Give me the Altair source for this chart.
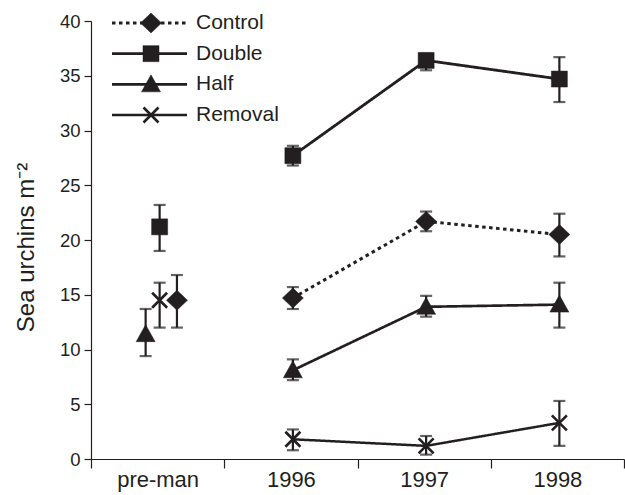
import altair as alt
import pandas as pd

periods = ["pre-man", "1996", "1997", "1998"]
series = ["Control", "Double", "Half", "Removal"]

control_mean = [14.5, 14.7, 21.7, 20.5]
control_lo = [12.0, 13.7, 20.8, 18.5]
control_hi = [16.8, 15.7, 22.6, 22.4]

double_mean = [21.2, 27.7, 36.4, 34.7]
double_lo = [19.0, 26.8, 35.5, 32.6]
double_hi = [23.2, 28.6, 37.0, 36.7]

half_mean = [11.4, 8.1, 13.9, 14.1]
half_lo = [9.4, 7.2, 13.0, 12.0]
half_hi = [13.7, 9.1, 14.9, 16.1]

removal_mean = [14.5, 1.8, 1.2, 3.3]
removal_lo = [12.0, 0.8, 0.4, 1.2]
removal_hi = [16.1, 2.7, 2.1, 5.3]

y_ticks = [0, 5, 10, 15, 20, 25, 30, 35, 40]

# layout (dodge of the pre-manipulation points)
X_SHIFT = 0.015
PRE_OFFSET = {"Control": 0.13, "Double": 0.0, "Half": -0.105, "Removal": 0.0}

INK = "#231f20"
FONT = "Liberation Sans"

table = {
    "Control": (control_mean, control_lo, control_hi),
    "Double": (double_mean, double_lo, double_hi),
    "Half": (half_mean, half_lo, half_hi),
    "Removal": (removal_mean, removal_lo, removal_hi),
}
rows = []
for s in series:
    m, lo, hi = table[s]
    for i, p in enumerate(periods):
        rows.append({
            "series": s, "period": p,
            "x": i + X_SHIFT + (PRE_OFFSET[s] if i == 0 else 0.0),
            "mean": m[i], "lo": lo[i], "hi": hi[i],
        })
df = pd.DataFrame(rows)
leg = pd.DataFrame({"series": series})

shape_paths = [
    "M-1.05,0L0,-1L1.05,0L0,1Z",
    "M-0.8,-0.8L0.8,-0.8L0.8,0.8L-0.8,0.8Z",
    "M0,-0.95L0.95,0.75L-0.95,0.75Z",
    "M-0.75,-0.75L0.75,0.75M-0.75,0.75L0.75,-0.75",
]
shape_scale = alt.Scale(domain=series, range=shape_paths)
dash_scale = alt.Scale(domain=series, range=[[3.5, 3.5], [1, 0], [1, 0], [1, 0]])
width_scale = alt.Scale(domain=series, range=[3, 2.5, 1.8, 1.1])

label_map = "{'0': 'pre-man', '1': '1996', '2': '1997', '3': '1998'}"

x_enc = alt.X(
    "x:Q",
    scale=alt.Scale(domain=[-0.5, 3.5], nice=False, zero=False),
    axis=alt.Axis(
        title=None,
        values=[-0.5, 0, 0.5, 1, 1.5, 2, 2.5, 3, 3.5],
        labelExpr="datum.value % 1 === 0 ? " + label_map + "[''+datum.value] : ''",
        tickOpacity={"expr": "datum.value % 1 === 0 ? 0 : 1"},
        tickSize=9, tickColor=INK, tickWidth=1.2,
        domainColor=INK, domainWidth=1.2,
        labelFontSize=22, labelFont=FONT, labelColor=INK, labelPadding=1,
        labelOverlap=False, labelFlush=False, grid=False,
    ),
)
y_scale = alt.Scale(domain=[0, 40], nice=False, zero=True)
y_axis = alt.Axis(
    title="Sea urchins m⁻²", values=y_ticks, grid=False,
    tickSize=7, tickColor=INK, tickWidth=1.2, domainColor=INK, domainWidth=1.2,
    labelFontSize=18.5, labelFont=FONT, labelColor=INK, labelPadding=4,
    titleFontSize=24, titleFont=FONT, titleColor=INK, titleFontWeight="normal",
    titleX=-58, titleY=226, titleBaseline="alphabetic", titleAlign="center",
)

base = alt.Chart(df)

lines = base.transform_filter(alt.datum.period != "pre-man").mark_line(color=INK).encode(
    x=x_enc,
    y=alt.Y("mean:Q", scale=y_scale, axis=y_axis),
    detail="series:N",
    strokeDash=alt.StrokeDash("series:N", scale=dash_scale, legend=None),
    strokeWidth=alt.StrokeWidth("series:N", scale=width_scale, legend=None),
    order="x:Q",
)

err = base.mark_rule(color=INK, strokeWidth=2.2).encode(
    x="x:Q", y="lo:Q", y2="hi:Q",
)
cap_lo = base.mark_tick(orient="horizontal", color=INK, size=12, thickness=2.2).encode(
    x="x:Q", y="lo:Q")
cap_hi = base.mark_tick(orient="horizontal", color=INK, size=12, thickness=2.2).encode(
    x="x:Q", y="hi:Q")

points = base.mark_point(filled=True, fill=INK, stroke=INK, size=400, opacity=1).encode(
    x="x:Q", y="mean:Q",
    shape=alt.Shape("series:N", scale=shape_scale, legend=None),
    strokeWidth=alt.condition(alt.datum.series == "Removal", alt.value(2.6), alt.value(0.5)),
)

main = alt.layer(lines, err, cap_lo, cap_hi, points)

leg_y = alt.Y("series:N", scale=alt.Scale(type="point", domain=series, range=[2.0, 94.0], padding=0), axis=None)
lb = alt.Chart(leg)
leg_lines = lb.mark_rule(color=INK).encode(
    x=alt.value(21), x2=alt.value(96), y=leg_y,
    strokeDash=alt.StrokeDash("series:N", scale=dash_scale, legend=None),
    strokeWidth=alt.StrokeWidth("series:N", scale=width_scale, legend=None),
)
leg_pts = lb.mark_point(filled=True, fill=INK, stroke=INK, size=400, opacity=1).encode(
    x=alt.value(60), y=leg_y,
    shape=alt.Shape("series:N", scale=shape_scale, legend=None),
    strokeWidth=alt.condition(alt.datum.series == "Removal", alt.value(2.6), alt.value(0.5)),
)
leg_txt = lb.mark_text(align="left", baseline="middle", fontSize=21, font=FONT, color=INK).encode(
    x=alt.value(105), y=leg_y, text="series:N",
)
legend = alt.layer(leg_lines, leg_pts, leg_txt)

chart = alt.layer(main, legend).resolve_scale(y="independent").properties(
    width=533, height=438,
    autosize=alt.AutoSizeParams(type="none"),
    padding={"left": 91, "top": 21, "right": 1, "bottom": 36},
    background="white",
).configure_view(stroke=None)

chart.save("out.html", embed_options={"renderer": "svg", "actions": False})
